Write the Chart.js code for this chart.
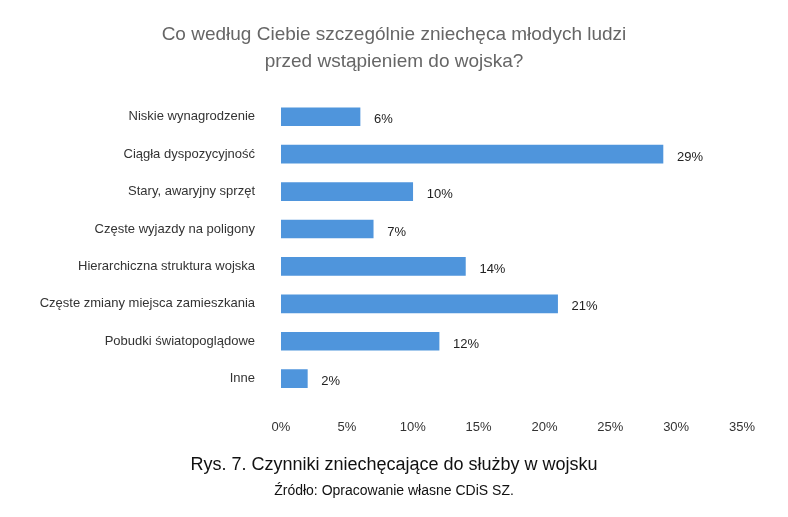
<!DOCTYPE html>
<html><head><meta charset="utf-8">
<script src="https://cdn.jsdelivr.net/npm/chart.js@4"></script>
<style>
body{margin:0;background:#fff;font-family:"Liberation Sans",Arial,sans-serif}
#wrap{position:relative;width:788px;height:517px}
.t{position:absolute;left:0;width:788px;text-align:center}
</style></head><body>
<div id="wrap">
<canvas id="c" width="788" height="517"></canvas>
<div class="t" style="top:20px;font-size:19px;color:#666;line-height:27px">Co według Ciebie szczególnie zniechęca młodych ludzi<br>przed wstąpieniem do wojska?</div>
<div class="t" style="top:454px;font-size:18px;color:#111">Rys. 7. Czynniki zniechęcające do służby w wojsku</div>
<div class="t" style="top:482px;font-size:14px;color:#111">Źródło: Opracowanie własne CDiS SZ.</div>
</div>
<script>
// Dane
const categories = ['Niskie wynagrodzenie','Ciągła dyspozycyjność','Stary, awaryjny sprzęt','Częste wyjazdy na poligony','Hierarchiczna struktura wojska','Częste zmiany miejsca zamieszkania','Pobudki światopoglądowe','Inne'];
const values = [6, 29, 10, 7, 14, 21, 12, 2];
const tickMax = 35;

const valueLabels = {
  id: 'valueLabels',
  afterDatasetsDraw(chart) {
    const ctx = chart.ctx;
    ctx.save();
    ctx.font = '13px "Liberation Sans Narrow", "Liberation Sans", Arial';
    ctx.fillStyle = '#222';
    ctx.textBaseline = 'middle';
    chart.getDatasetMeta(0).data.forEach((bar, i) => {
      ctx.fillText(values[i] + '%', bar.x + 14, bar.y + 3);
    });
    ctx.restore();
  }
};

new Chart(document.getElementById('c'), {
  type: 'bar',
  data: {
    labels: categories,
    datasets: [{ data: values, backgroundColor: '#4f95dc', barThickness: 18 }]
  },
  options: {
    indexAxis: 'y',
    responsive: false,
    animation: false,
    layout: { padding: { top: 98, bottom: 68, left: 4, right: 46 } },
    plugins: { legend: { display: false }, tooltip: { enabled: false } },
    scales: {
      x: {
        min: 0, max: tickMax,
        grid: { display: false }, border: { display: false },
        ticks: { stepSize: 5, callback: v => v + '%', color: '#333', padding: 14,
                 font: { size: 13, family: '"Liberation Sans Narrow", "Liberation Sans", Arial' } }
      },
      y: {
        grid: { display: false }, border: { display: false },
        afterFit: s => { s.width = 277; },
        ticks: { color: '#333', padding: 18,
                 font: { size: 13, family: '"Liberation Sans Narrow", "Liberation Sans", Arial' } }
      }
    }
  },
  plugins: [valueLabels]
});
</script>
</body></html>
